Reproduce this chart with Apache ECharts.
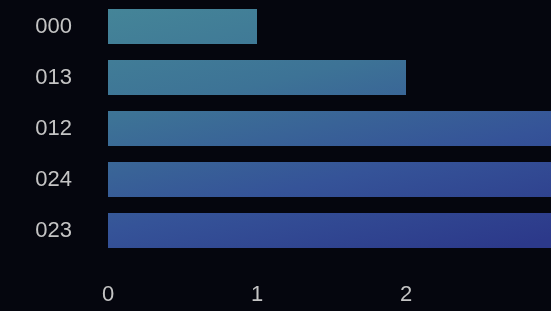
<!DOCTYPE html>
<html>
<head>
<meta charset="utf-8">
<script src="https://cdn.jsdelivr.net/npm/echarts@6/dist/echarts.min.js"></script>
<style>
	html, body {
		margin: 0;
		padding: 0;
		background: #05060e;
		overflow: hidden;
	}
	#chart {
		width: 560px;
		height: 311px;
	}
</style>
</head>
<body>
<div id="chart"></div>
<script>
// 类目（从上到下）
var categories = ['000', '013', '012', '024', '023']
var values = [1, 2, 3, 3, 3]
var xTicks = [0, 1, 2, 3]

var chart = echarts.init(document.getElementById('chart'))

var labelStyle = {
	color: '#c4c4c4',
	fontSize: 22,
	fontFamily: 'Liberation Sans, Arial, sans-serif'
}

var option = {
	backgroundColor: '#05060e',
	grid: {
		left: 108,
		top: 1,
		width: 447,
		height: 255
	},
	xAxis: {
		type: 'value',
		min: xTicks[0],
		max: xTicks[xTicks.length - 1],
		interval: 1,
		axisLine: { show: false },
		axisTick: { show: false },
		splitLine: { show: false },
		axisLabel: Object.assign({ margin: 28, showMaxLabel: false }, labelStyle)
	},
	yAxis: {
		type: 'category',
		inverse: true,
		data: categories,
		axisLine: { show: false },
		axisTick: { show: false },
		splitLine: { show: false },
		axisLabel: Object.assign({ margin: 36 }, labelStyle)
	},
	series: [
		{
			type: 'bar',
			data: values,
			barWidth: 35,
			itemStyle: {
				// 全局渐变：左上青色 -> 右下深蓝
				color: new echarts.graphic.LinearGradient(108, 0, 184, 324, [
					{ offset: 0, color: '#458698' },
					{ offset: 0.35, color: '#3d7396' },
					{ offset: 0.68, color: '#355398' },
					{ offset: 1, color: '#2c398a' }
				], true)
			}
		}
	]
}
chart.setOption(option)
</script>
</body>
</html>
